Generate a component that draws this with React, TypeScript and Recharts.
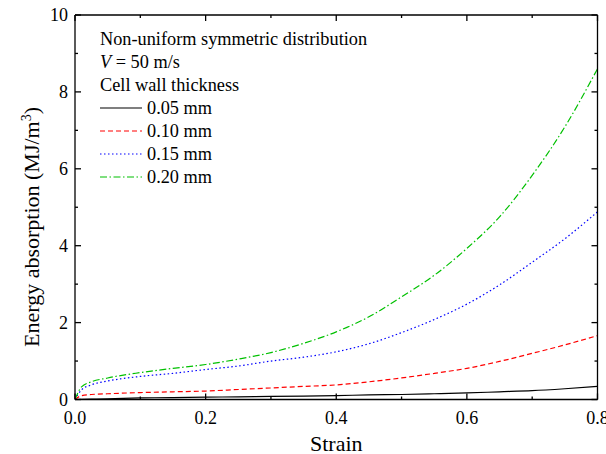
import { LineChart, Line, XAxis, YAxis } from "recharts";

const FONT = "'Liberation Serif', 'Times New Roman', serif";

// strain values (x axis)
const strain = [0, 0.01, 0.025, 0.05, 0.1, 0.15, 0.2, 0.25, 0.3, 0.35, 0.4, 0.45, 0.5, 0.55, 0.6, 0.65, 0.7, 0.75, 0.8];

// energy absorption (MJ/m^3) per cell wall thickness
const wall005 = [0, 0.005, 0.01, 0.02, 0.04, 0.05, 0.06, 0.07, 0.08, 0.09, 0.1, 0.12, 0.13, 0.15, 0.17, 0.2, 0.23, 0.28, 0.34];
const wall010 = [0, 0.1, 0.13, 0.15, 0.18, 0.2, 0.22, 0.26, 0.3, 0.34, 0.38, 0.46, 0.56, 0.68, 0.81, 0.99, 1.2, 1.42, 1.66];
const wall015 = [0, 0.25, 0.38, 0.48, 0.6, 0.68, 0.78, 0.87, 1.0, 1.1, 1.24, 1.45, 1.74, 2.08, 2.48, 2.98, 3.57, 4.18, 4.88];
const wall020 = [0, 0.33, 0.46, 0.56, 0.7, 0.81, 0.91, 1.05, 1.22, 1.46, 1.76, 2.15, 2.67, 3.23, 3.93, 4.75, 5.83, 7.09, 8.6];

const xTicks = [0, 0.1, 0.2, 0.3, 0.4, 0.5, 0.6, 0.7, 0.8];
const yTicks = [0, 1, 2, 3, 4, 5, 6, 7, 8, 9, 10];

const series = [
  { key: "t005", name: "0.05 mm", color: "#000000", dash: undefined as string | undefined },
  { key: "t010", name: "0.10 mm", color: "#ff0000", dash: "5 3" },
  { key: "t015", name: "0.15 mm", color: "#0000ff", dash: "1.5 2.5" },
  { key: "t020", name: "0.20 mm", color: "#00c000", dash: "7 2.5 1.5 2.5" },
];

const data = strain.map((s, i) => ({
  strain: s,
  t005: wall005[i],
  t010: wall010[i],
  t015: wall015[i],
  t020: wall020[i],
}));

const isMajorX = (v: number) => Math.round(v * 10) % 2 === 0;
const isMajorY = (v: number) => Math.round(v) % 2 === 0;

// tick marks point into the plot; minor ones are shorter
function BottomTick({ x, y, payload }: any) {
  const major = isMajorX(payload.value);
  return (
    <g>
      <line x1={x} x2={x} y1={y} y2={y - (major ? 6 : 3)} stroke="#000" strokeWidth={1.3} />
      {major && (
        <text x={x} y={y + 24} textAnchor="middle" fontSize={18} fontFamily={FONT} fill="#000">
          {payload.value.toFixed(1)}
        </text>
      )}
    </g>
  );
}

function TopTick({ x, y, payload }: any) {
  const major = isMajorX(payload.value);
  return <line x1={x} x2={x} y1={y} y2={y + (major ? 6 : 3)} stroke="#000" strokeWidth={1.3} />;
}

function LeftTick({ x, y, payload }: any) {
  const major = isMajorY(payload.value);
  return (
    <g>
      <line x1={x} x2={x + (major ? 6 : 3)} y1={y} y2={y} stroke="#000" strokeWidth={1.3} />
      {major && (
        <text x={x - 7} y={y + 6} textAnchor="end" fontSize={18} fontFamily={FONT} fill="#000">
          {payload.value}
        </text>
      )}
    </g>
  );
}

function RightTick({ x, y, payload }: any) {
  const major = isMajorY(payload.value);
  return <line x1={x} x2={x - (major ? 6 : 3)} y1={y} y2={y} stroke="#000" strokeWidth={1.3} />;
}

function XTitle({ viewBox }: any) {
  return (
    <text x={viewBox.x + viewBox.width / 2} y={viewBox.y + 51} textAnchor="middle" fontSize={22} fontFamily={FONT} fill="#000">
      Strain
    </text>
  );
}

// y title as a separate overlay, rotated
function YTitle() {
  const cx = 39;
  const cy = 227;
  return (
    <svg width={60} height={454} style={{ position: "absolute", left: 0, top: 0, pointerEvents: "none" }}>
      <text x={cx} y={cy} transform={`rotate(-90 ${cx} ${cy})`} textAnchor="middle" fontSize={22} fontFamily={FONT} fill="#000">
        Energy absorption (MJ/m
        <tspan dy={-8} fontSize={14}>3</tspan>
        <tspan dy={8}>)</tspan>
      </text>
    </svg>
  );
}

// legend drawn as a plain overlay, from the same series list
function LegendBox() {
  return (
    <div
      style={{
        position: "absolute",
        left: 100,
        top: 27.5,
        fontFamily: FONT,
        fontSize: 18.3,
        lineHeight: "23px",
        color: "#000",
        whiteSpace: "nowrap",
      }}
    >
      <div>Non-uniform symmetric distribution</div>
      <div>
        <i>V</i> = 50 m/s
      </div>
      <div>Cell wall thickness</div>
      {series.map((s) => (
        <div key={s.key} style={{ display: "flex", alignItems: "center", height: 23 }}>
          <svg width={42} height={10}>
            <line x1={0} x2={42} y1={5} y2={5} stroke={s.color} strokeWidth={1.2} strokeDasharray={s.dash} />
          </svg>
          <span style={{ marginLeft: 5 }}>{s.name}</span>
        </div>
      ))}
    </div>
  );
}

export default function App() {
  return (
    <div style={{ position: "absolute", left: 0, top: 0, width: 606, height: 454, background: "#fff", fontFamily: FONT }}>
      <LineChart width={606} height={454} data={data} margin={{ top: 14, right: 7.5, bottom: 24.5, left: 0 }}>
        <XAxis
          xAxisId="bottom"
          dataKey="strain"
          type="number"
          domain={[0, 0.8]}
          allowDataOverflow
          ticks={xTicks}
          interval={0}
          tickLine={false}
          tickSize={0}
          tickMargin={0}
          tick={<BottomTick />}
          axisLine={{ stroke: "#000", strokeWidth: 1.3 }}
          height={30}
          label={<XTitle />}
        />
        <XAxis
          xAxisId="top"
          dataKey="strain"
          orientation="top"
          type="number"
          domain={[0, 0.8]}
          ticks={xTicks}
          interval={0}
          tickLine={false}
          tickSize={0}
          tickMargin={0}
          tick={<TopTick />}
          axisLine={{ stroke: "#000", strokeWidth: 1.3 }}
          height={1}
        />
        <YAxis
          yAxisId="left"
          type="number"
          domain={[0, 10]}
          ticks={yTicks}
          interval={0}
          tickLine={false}
          tickSize={0}
          tickMargin={0}
          tick={<LeftTick />}
          axisLine={{ stroke: "#000", strokeWidth: 1.3 }}
          width={75}
        />
        <YAxis
          yAxisId="right"
          dataKey="t020"
          orientation="right"
          type="number"
          domain={[0, 10]}
          ticks={yTicks}
          interval={0}
          tickLine={false}
          tickSize={0}
          tickMargin={0}
          tick={<RightTick />}
          axisLine={{ stroke: "#000", strokeWidth: 1.3 }}
          width={1}
        />
        {series.map((s) => (
          <Line
            key={s.key}
            xAxisId="bottom"
            yAxisId="left"
            type="monotone"
            dataKey={s.key}
            name={s.name}
            stroke={s.color}
            strokeWidth={1.2}
            strokeDasharray={s.dash}
            dot={false}
            activeDot={false}
            isAnimationActive={false}
          />
        ))}
      </LineChart>
      <YTitle />
      <LegendBox />
    </div>
  );
}
